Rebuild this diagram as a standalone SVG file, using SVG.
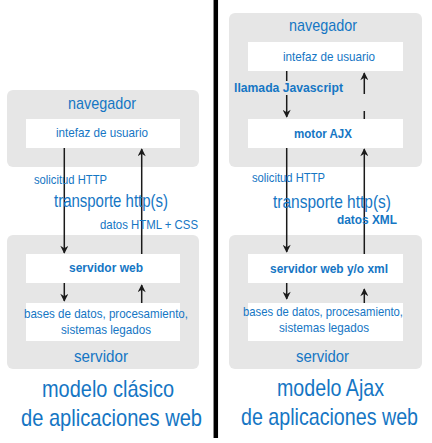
<svg xmlns="http://www.w3.org/2000/svg" width="432" height="443" viewBox="0 0 432 443">
<defs>
<style>
.grp{fill:#e6e6e6}
.box{fill:#ffffff}
.t{font-family:"Liberation Sans Narrow","Liberation Sans",Arial,sans-serif;fill:#1576c4}
.s{font-size:13px}
.b{font-weight:bold;font-size:13.5px}
.m{font-size:17px}
.l{font-size:18.5px}
.x{font-size:24px}
.ln{stroke:#1a1a1a;stroke-width:1.5;fill:none}
</style>
<marker id="ah" viewBox="0 0 10 10" refX="9" refY="5" markerWidth="9" markerHeight="8" markerUnits="userSpaceOnUse" orient="auto">
<path d="M0,0 L10,5 L0,10 L3,5 z" fill="#1a1a1a"/>
</marker>
</defs>
<rect width="432" height="443" fill="#ffffff"/>

<!-- divider -->
<line x1="215.8" y1="0" x2="215.8" y2="438" stroke="#000" stroke-width="4.5"/>

<!-- LEFT: classic model -->
<g id="nav-left">
<rect class="grp" x="7" y="90" width="192" height="77" rx="6"/>
<text class="t m" x="68" y="109" textLength="68" lengthAdjust="spacingAndGlyphs">navegador</text>
</g>
<g id="ui-left">
<rect class="box" x="26" y="119" width="154" height="29"/>
<text class="t s" x="56" y="137" textLength="92" lengthAdjust="spacingAndGlyphs">intefaz de usuario</text>
</g>
<g id="srv-left">
<rect class="grp" x="7" y="235" width="192" height="134" rx="6"/>
<text class="t m" x="74" y="362" textLength="54" lengthAdjust="spacingAndGlyphs">servidor</text>
</g>
<g id="web-left">
<rect class="box" x="26" y="254" width="154" height="29"/>
<text class="t b" x="69" y="272" textLength="74" lengthAdjust="spacingAndGlyphs">servidor web</text>
</g>
<g id="db-left">
<rect class="box" x="26" y="303" width="154" height="38"/>
<text class="t s" x="24" y="318" textLength="164" lengthAdjust="spacingAndGlyphs">bases de datos, procesamiento,</text>
<text class="t s" x="61" y="334" textLength="90" lengthAdjust="spacingAndGlyphs">sistemas legados</text>
</g>

<!-- RIGHT: Ajax model -->
<g id="nav-right">
<rect class="grp" x="229" y="13" width="193" height="154" rx="6"/>
<text class="t m" x="289" y="31" textLength="68" lengthAdjust="spacingAndGlyphs">navegador</text>
</g>
<g id="ui-right">
<rect class="box" x="248" y="42" width="155" height="29"/>
<text class="t s" x="283" y="61" textLength="92" lengthAdjust="spacingAndGlyphs">intefaz de usuario</text>
</g>
<g id="ajx-right">
<rect class="box" x="248" y="119" width="155" height="29"/>
<text class="t b" x="294" y="138" textLength="58" lengthAdjust="spacingAndGlyphs">motor AJX</text>
</g>
<g id="srv-right">
<rect class="grp" x="229" y="235" width="193" height="134" rx="6"/>
<text class="t m" x="296" y="362" textLength="53" lengthAdjust="spacingAndGlyphs">servidor</text>
</g>
<g id="web-right">
<rect class="box" x="248" y="254" width="155" height="29"/>
<text class="t b" x="270" y="273" textLength="118" lengthAdjust="spacingAndGlyphs">servidor web y/o xml</text>
</g>
<g id="db-right">
<rect class="box" x="248" y="303" width="155" height="38"/>
<text class="t s" x="243" y="316" textLength="160" lengthAdjust="spacingAndGlyphs">bases de datos, procesamiento,</text>
<text class="t s" x="279" y="332" textLength="90" lengthAdjust="spacingAndGlyphs">sistemas legados</text>
</g>

<!-- connectors -->
<g id="connectors">
<line class="ln" x1="64.3" y1="148" x2="64.3" y2="253" marker-end="url(#ah)"/>
<line class="ln" x1="141.7" y1="254" x2="141.7" y2="149" marker-end="url(#ah)"/>
<line class="ln" x1="64.3" y1="283" x2="64.3" y2="301" marker-end="url(#ah)"/>
<line class="ln" x1="141.7" y1="303" x2="141.7" y2="285" marker-end="url(#ah)"/>

<line class="ln" x1="286.7" y1="71" x2="286.7" y2="117" marker-end="url(#ah)"/>
<line class="ln" x1="364.3" y1="119" x2="364.3" y2="73" stroke-dasharray="8 17 22" marker-end="url(#ah)"/>
<line class="ln" x1="286.7" y1="148" x2="286.7" y2="252" marker-end="url(#ah)"/>
<line class="ln" x1="364.3" y1="254" x2="364.3" y2="149" marker-end="url(#ah)"/>
<line class="ln" x1="286.7" y1="283" x2="286.7" y2="299" marker-end="url(#ah)"/>
<line class="ln" x1="364.3" y1="303" x2="364.3" y2="289" marker-end="url(#ah)"/>
</g>

<!-- connector labels -->
<g id="labels-left">
<text class="t s" x="34" y="184" textLength="73" lengthAdjust="spacingAndGlyphs">solicitud HTTP</text>
<text class="t l" x="54" y="207" textLength="114" lengthAdjust="spacingAndGlyphs">transporte http(s)</text>
<text class="t s" x="100" y="229" textLength="98" lengthAdjust="spacingAndGlyphs">datos HTML + CSS</text>
</g>
<g id="labels-right">
<rect class="grp" x="232" y="81" width="113" height="14"/>
<text class="t b" x="234" y="92" textLength="109" lengthAdjust="spacingAndGlyphs">llamada Javascript</text>
<text class="t s" x="252" y="182" textLength="73" lengthAdjust="spacingAndGlyphs">solicitud HTTP</text>
<text class="t l" x="273" y="208" textLength="118" lengthAdjust="spacingAndGlyphs">transporte http(s)</text>
<text class="t b" x="337" y="224" textLength="60" lengthAdjust="spacingAndGlyphs">datos XML</text>
</g>

<!-- captions -->
<g id="caption-left">
<text class="t x" x="42" y="397" textLength="132" lengthAdjust="spacingAndGlyphs">modelo clásico</text>
<text class="t x" x="21" y="426" textLength="181" lengthAdjust="spacingAndGlyphs">de aplicaciones web</text>
</g>
<g id="caption-right">
<text class="t x" x="277" y="396" textLength="107" lengthAdjust="spacingAndGlyphs">modelo Ajax</text>
<text class="t x" x="241" y="425" textLength="177" lengthAdjust="spacingAndGlyphs">de aplicaciones web</text>
</g>
</svg>
